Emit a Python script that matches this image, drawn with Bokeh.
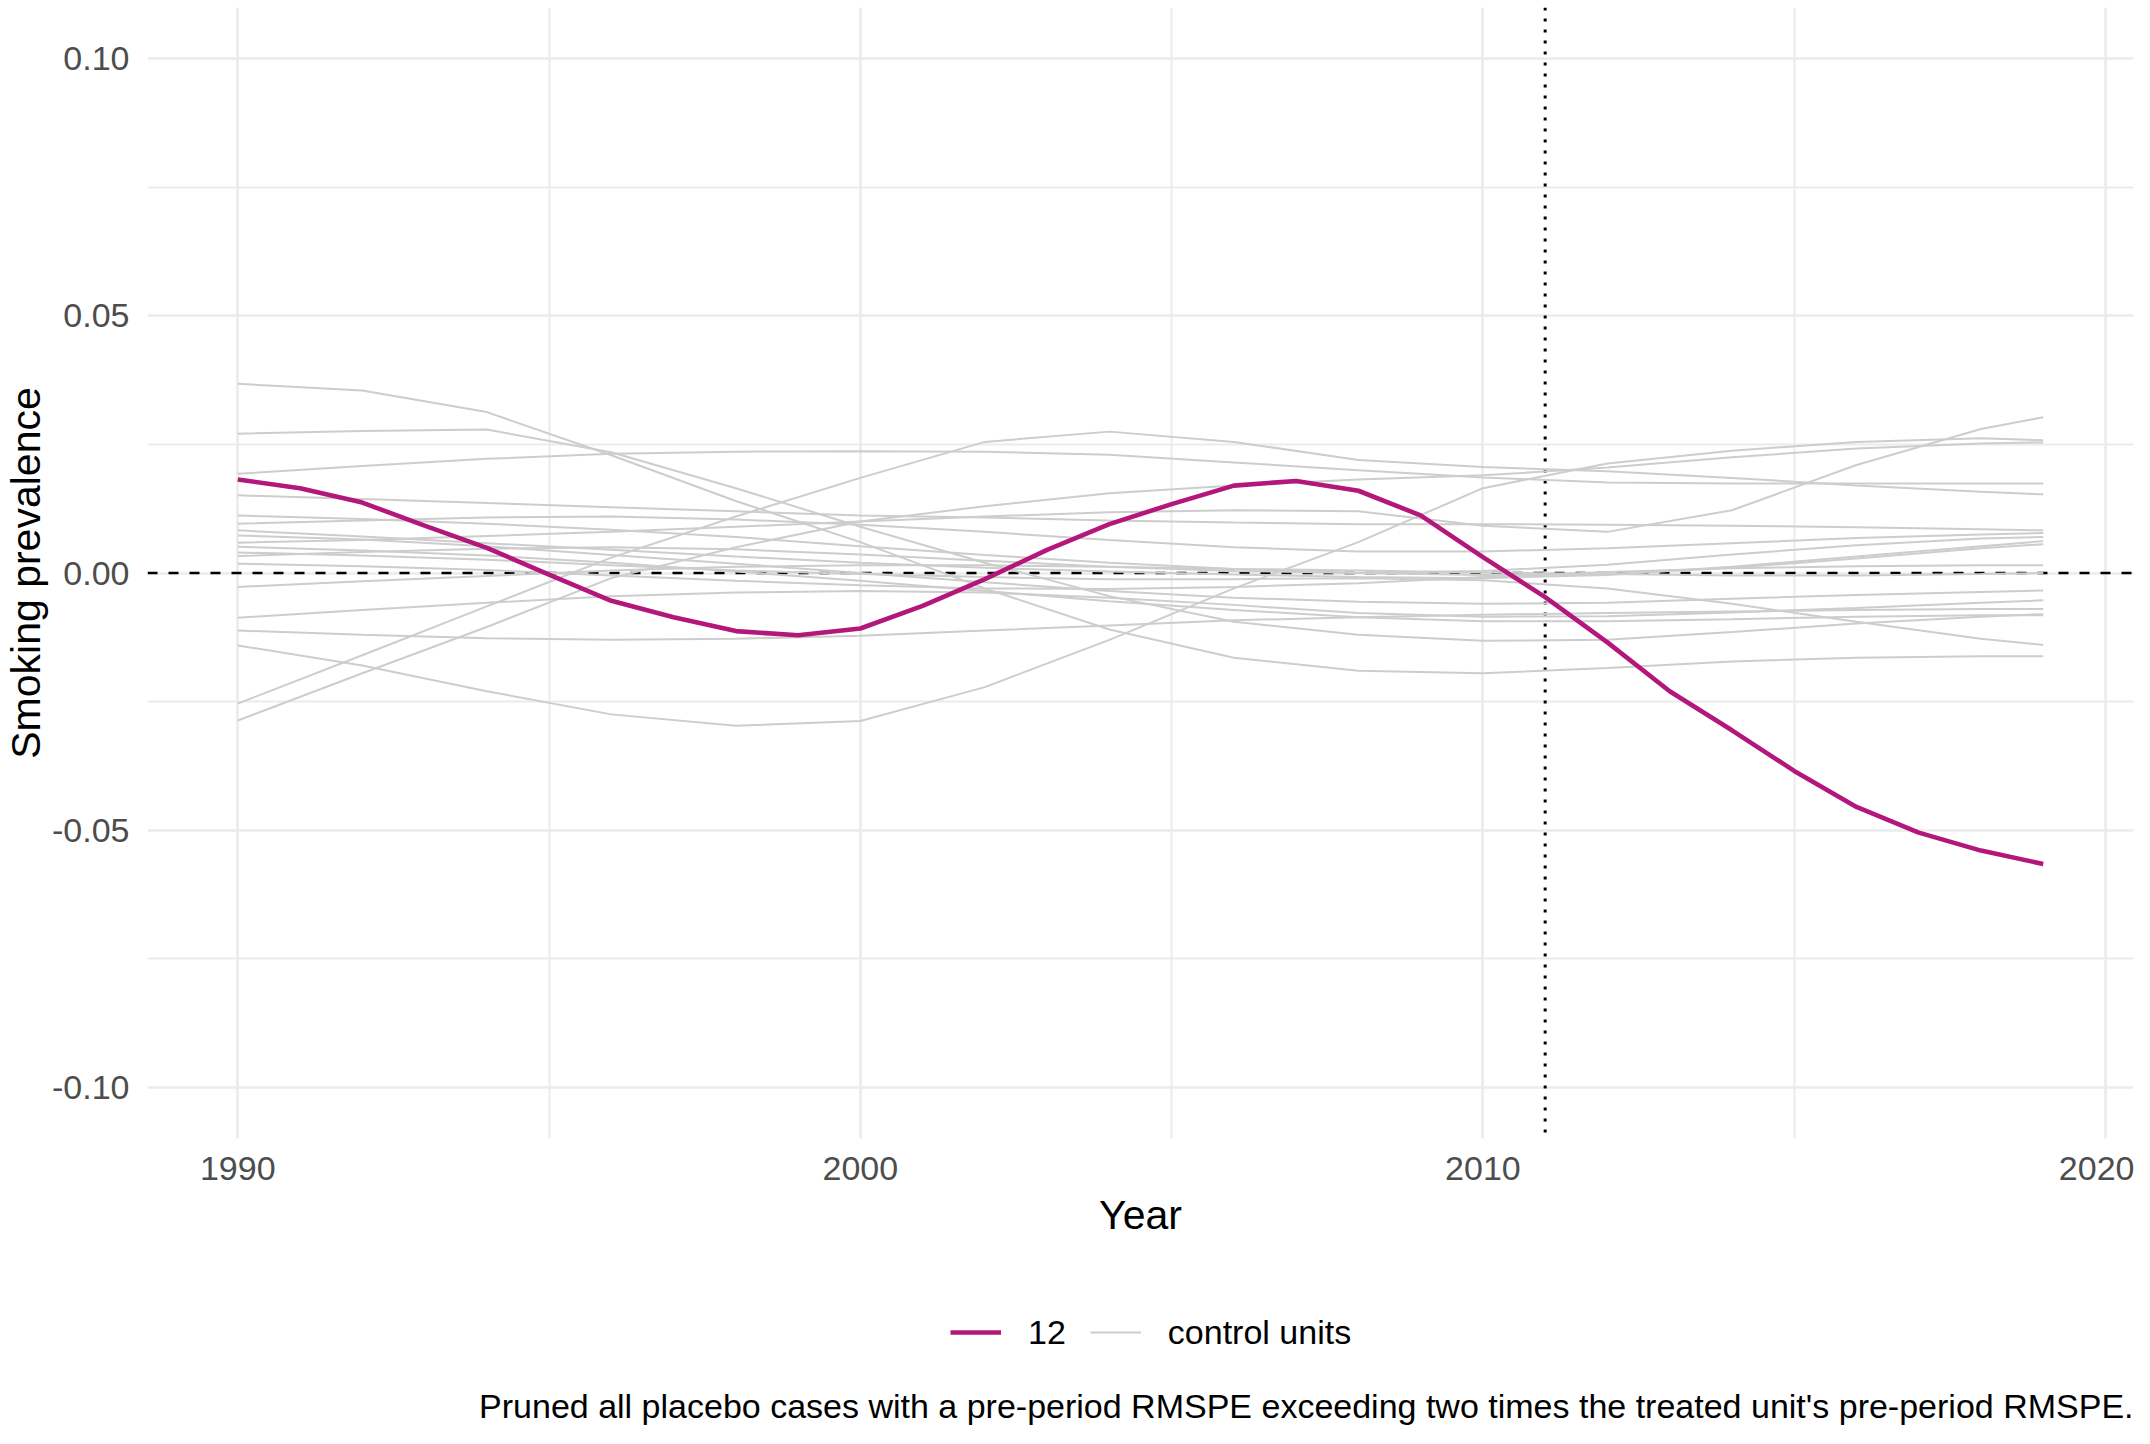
from bokeh.plotting import figure
from bokeh.layouts import column
from bokeh.models import (Range1d, FixedTicker, Legend, LegendItem, Span, Label,
                          PrintfTickFormatter)
from bokeh.embed import file_html
from bokeh.resources import INLINE

# ---------------- data ----------------
years = list(range(1990, 2020))
treated_label = "12"
treated = [0.0182, 0.0165, 0.0137, 0.0092, 0.0049, -0.0003, -0.0054, -0.0086, -0.0113, -0.0121,
           -0.0108, -0.0064, -0.0012, 0.0045, 0.0095, 0.0134, 0.0170, 0.0179, 0.0160, 0.0112,
           0.0031, -0.0047, -0.0135, -0.0230, -0.0306, -0.0385, -0.0455, -0.0505, -0.0540, -0.0566]

ctrl_years = [1990, 1992, 1994, 1996, 1998, 2000, 2002, 2004, 2006, 2008,
              2010, 2012, 2014, 2016, 2018, 2019]
c01 = [0.0368, 0.0355, 0.0313, 0.0229, 0.0140, 0.0060, -0.0030, -0.0110, -0.0165, -0.0190, -0.0195, -0.0185, -0.0172, -0.0165, -0.0162, -0.0162]
c02 = [0.0271, 0.0276, 0.0279, 0.0235, 0.0165, 0.0090, 0.0020, -0.0045, -0.0095, -0.0120, -0.0132, -0.0130, -0.0115, -0.0098, -0.0085, -0.0080]
c03 = [0.0193, 0.0208, 0.0222, 0.0232, 0.0236, 0.0237, 0.0236, 0.0230, 0.0215, 0.0200, 0.0186, 0.0176, 0.0174, 0.0174, 0.0174, 0.0174]
c04 = [-0.0141, -0.0180, -0.0230, -0.0275, -0.0297, -0.0288, -0.0222, -0.0130, -0.0030, 0.0060, 0.0165, 0.0213, 0.0238, 0.0255, 0.0262, 0.0258]
c05 = [-0.0254, -0.0160, -0.0065, 0.0030, 0.0110, 0.0185, 0.0255, 0.0275, 0.0255, 0.0220, 0.0206, 0.0198, 0.0185, 0.0170, 0.0158, 0.0153]
c06 = [-0.0287, -0.0195, -0.0105, -0.0010, 0.0050, 0.0100, 0.0130, 0.0155, 0.0170, 0.0182, 0.0190, 0.0205, 0.0225, 0.0242, 0.0252, 0.0254]
c07 = [0.0059, 0.0064, 0.0072, 0.0080, 0.0090, 0.0100, 0.0110, 0.0118, 0.0122, 0.0120, 0.0092, 0.0080, 0.0122, 0.0210, 0.0280, 0.0303]
c08 = [0.0151, 0.0144, 0.0136, 0.0128, 0.0120, 0.0112, 0.0108, 0.0102, 0.0098, 0.0095, 0.0095, 0.0094, 0.0092, 0.0089, 0.0085, 0.0083]
c09 = [0.0112, 0.0105, 0.0096, 0.0084, 0.0070, 0.0052, 0.0035, 0.0020, 0.0008, 0.0000, -0.0004, -0.0002, 0.0010, 0.0028, 0.0048, 0.0056]
c10 = [0.0096, 0.0102, 0.0108, 0.0110, 0.0104, 0.0094, 0.0080, 0.0064, 0.0050, 0.0042, 0.0042, 0.0048, 0.0058, 0.0068, 0.0075, 0.0078]
c11 = [0.0083, 0.0071, 0.0058, 0.0045, 0.0032, 0.0020, 0.0010, 0.0003, -0.0003, -0.0008, -0.0010, -0.0004, 0.0012, 0.0032, 0.0052, 0.0062]
c12 = [0.0073, 0.0065, 0.0052, 0.0035, 0.0018, 0.0000, -0.0018, -0.0035, -0.0048, -0.0056, -0.0060, -0.0058, -0.0050, -0.0043, -0.0037, -0.0034]
c13 = [0.0051, 0.0044, 0.0034, 0.0020, 0.0003, -0.0015, -0.0035, -0.0055, -0.0072, -0.0086, -0.0094, -0.0094, -0.0090, -0.0085, -0.0082, -0.0082]
c14 = [0.0033, 0.0041, 0.0047, 0.0050, 0.0046, 0.0036, 0.0024, 0.0012, 0.0004, 0.0000, 0.0004, 0.0016, 0.0036, 0.0054, 0.0067, 0.0070]
c15 = [0.0018, 0.0013, 0.0006, -0.0005, -0.0015, -0.0024, -0.0030, -0.0031, -0.0027, -0.0020, -0.0008, 0.0002, 0.0009, 0.0013, 0.0015, 0.0015]
c16 = [-0.0027, -0.0016, -0.0006, 0.0005, 0.0012, 0.0015, 0.0015, 0.0012, 0.0008, 0.0005, 0.0001, -0.0002, -0.0005, -0.0005, -0.0002, 0.0000]
c17 = [-0.0087, -0.0072, -0.0058, -0.0045, -0.0038, -0.0035, -0.0038, -0.0048, -0.0062, -0.0078, -0.0085, -0.0084, -0.0077, -0.0068, -0.0058, -0.0053]
c18 = [-0.0112, -0.0120, -0.0127, -0.0130, -0.0128, -0.0122, -0.0112, -0.0102, -0.0092, -0.0086, -0.0081, -0.0078, -0.0075, -0.0072, -0.0070, -0.0070]
c19 = [0.0040, 0.0034, 0.0026, 0.0015, 0.0005, -0.0002, -0.0008, -0.0012, -0.0012, -0.0010, -0.0014, -0.0030, -0.0060, -0.0095, -0.0128, -0.0140]
controls = [c01, c02, c03, c04, c05, c06, c07, c08, c09, c10,
            c11, c12, c13, c14, c15, c16, c17, c18, c19]

x_ticks = [1990, 2000, 2010, 2020]
x_minor = [1995, 2005, 2015]
y_ticks = [-0.10, -0.05, 0.00, 0.05, 0.10]
y_minor = [-0.075, -0.025, 0.025, 0.075]
treatment_year = 2011
caption = ("Pruned all placebo cases with a pre-period RMSPE exceeding two times "
           "the treated unit's pre-period RMSPE.")

FONT = "Liberation Sans"
TREATED_COLOR = "#B3177C"
CTRL_COLOR = "#CDCDCD"
W = 2134
H1 = 1290
H2 = 1428 - H1

# ---------------- main panel ----------------
p = figure(width=W, height=H1, output_backend="svg", toolbar_location=None,
           x_range=Range1d(1988.55, 2020.45), y_range=Range1d(-0.11, 0.11),
           min_border_left=147, min_border_right=1, min_border_top=7,
           min_border_bottom=H1 - 1138)
p.outline_line_color = None
p.background_fill_color = "white"
p.border_fill_color = "white"

p.xgrid.ticker = FixedTicker(ticks=x_ticks, minor_ticks=x_minor)
p.ygrid.ticker = FixedTicker(ticks=y_ticks, minor_ticks=y_minor)
for g in (p.xgrid, p.ygrid):
    g.grid_line_color = "#EBEBEB"
    g.grid_line_width = 2.6
    g.minor_grid_line_color = "#EBEBEB"
    g.minor_grid_line_width = 2.0

p.xaxis.ticker = FixedTicker(ticks=x_ticks)
p.yaxis.ticker = FixedTicker(ticks=y_ticks)
p.yaxis.formatter = PrintfTickFormatter(format="%.2f")
for ax in (p.xaxis, p.yaxis):
    ax.axis_line_color = None
    ax.major_tick_line_color = None
    ax.minor_tick_line_color = None
    ax.major_tick_out = 0
    ax.major_tick_in = 0
    ax.minor_tick_out = 0
    ax.major_label_text_font = FONT
    ax.major_label_text_font_size = "34px"
    ax.major_label_text_color = "#4D4D4D"
    ax.axis_label_text_font = FONT
    ax.axis_label_text_font_size = "41px"
    ax.axis_label_text_font_style = "normal"
    ax.axis_label_text_color = "black"
p.xaxis.axis_label = "Year"
p.yaxis.axis_label = "Smoking prevalence"
p.xaxis.major_label_standoff = 18
p.xaxis.axis_label_standoff = 9
p.yaxis.major_label_standoff = 18
p.yaxis.axis_label_standoff = 0

p.add_layout(Span(location=0, dimension="width", line_color="black",
                  line_width=2.6, line_dash="10 11", level="underlay"))
p.add_layout(Span(location=treatment_year, dimension="height", line_color="black",
                  line_width=3, line_dash="3 8", level="underlay"))

for c in controls:
    p.line(ctrl_years, c, line_color=CTRL_COLOR, line_width=2.0)
p.line(years, treated, line_color=TREATED_COLOR, line_width=4.6)

# ---------------- legend + caption strip ----------------
# The strip's x range lies far away from the years, so the series drawn here
# only serve as legend keys and fall outside the visible strip.
q = figure(width=W, height=H2, output_backend="svg", toolbar_location=None,
           x_range=Range1d(0, 1), y_range=Range1d(0, H2),
           x_axis_location=None, y_axis_location=None, min_border=0)
q.outline_line_color = None
q.grid.visible = False
q.background_fill_color = "white"
q.border_fill_color = "white"

key_treated = q.line(years, treated, line_color=TREATED_COLOR, line_width=4.6)
key_ctrl = q.line(ctrl_years, c01, line_color=CTRL_COLOR, line_width=2.0)
legend = Legend(items=[LegendItem(label=treated_label, renderers=[key_treated]),
                       LegendItem(label="control units", renderers=[key_ctrl])],
                orientation="horizontal", location=(803, 76),
                border_line_color=None, background_fill_color=None,
                glyph_width=51, glyph_height=40, label_height=40,
                label_standoff=27, spacing=24, padding=0, margin=0,
                label_text_font=FONT, label_text_font_size="34px",
                label_text_color="black")
q.add_layout(legend, "center")

q.add_layout(Label(x=1, y=23, text=caption, text_align="right",
                   text_baseline="alphabetic", text_font=FONT,
                   text_font_size="34px", text_color="black"))

open("out.html", "w").write(file_html(column(p, q), INLINE))
